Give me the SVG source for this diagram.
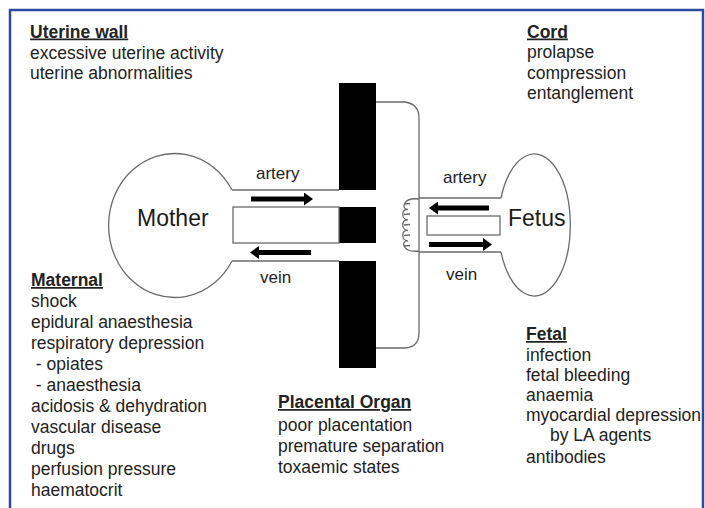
<svg xmlns="http://www.w3.org/2000/svg" width="705" height="508" viewBox="0 0 705 508">
<style>
.t{font-family:"Liberation Sans",Arial,sans-serif;font-size:17.5px;fill:#222}
.h{font-weight:bold;text-decoration:underline}
.big{font-family:"Liberation Sans",Arial,sans-serif;font-size:23px;fill:#1a1a1a}
.lab{font-family:"Liberation Sans",Arial,sans-serif;font-size:17px;fill:#222}
.ln{fill:none;stroke:#6a6a6a;stroke-width:1.3}
.bx{fill:#fff;stroke:#6a6a6a;stroke-width:1.3}
.bar{fill:#000}
.arr{stroke:#000;stroke-width:5;fill:none;marker-end:url(#ah)}
</style>
<defs>
<marker id="ah" markerUnits="userSpaceOnUse" markerWidth="9" markerHeight="13" refX="0" refY="6.5" orient="auto">
<path d="M0,0 L9,6.5 L0,13 z" fill="#000"/>
</marker>
</defs>
<rect x="0" y="0" width="705" height="508" fill="#fff"/>
<path d="M10,508 L10,10 L703,10 L703,508" fill="none" stroke="#2b4a9b" stroke-width="2.5"/>

<g id="placenta">
<rect class="bar" x="339" y="83" width="37" height="107"/>
<rect class="bar" x="339" y="207" width="37" height="36"/>
<rect class="bar" x="339" y="261" width="37" height="107"/>
</g>

<g id="mother">
<path class="ln" d="M232,190 A66,72 0 1 0 232,261"/>
<line class="ln" x1="232" y1="190" x2="339" y2="190"/>
<line class="ln" x1="232" y1="261" x2="339" y2="261"/>
<rect class="bx" x="233" y="207" width="106" height="36"/>
<text class="big" x="137" y="226">Mother</text>
</g>

<g id="cord">
<path class="ln" d="M376,102 L405,102 Q419,104 419,118 L419,333 Q419,347 405,348 L376,348"/>
<line class="ln" x1="419" y1="198" x2="501" y2="198"/>
<line class="ln" x1="419" y1="252" x2="501" y2="252"/>
<path class="ln" d="M419,199 C402,197 401,210 408,209.5 M408,209.5 C401,208 401,220 408,220 M408,220 C401,218.5 401,230.5 408,230.5 M408,230.5 C401,229 401,241 408,241 M408,241 C401,239.5 401,253 419,251"/>
<path class="ln" d="M404,204 L410,203.5 M404,214.5 L410,214 M404,225 L410,224.5 M404,235.5 L410,235 M404,246 L410,245.5"/>
</g>

<g id="fetus">
<path class="ln" d="M501,198 A36,71 0 1 1 501,252"/>
<rect class="bx" x="427" y="216" width="73" height="19"/>
<text class="big" x="508" y="226">Fetus</text>
</g>

<g id="connectors">
<line class="arr" x1="251" y1="199" x2="304" y2="199"/>
<line class="arr" x1="311" y1="252.5" x2="259" y2="252.5"/>
<line class="arr" x1="489" y1="208" x2="438" y2="208"/>
<line class="arr" x1="429" y1="244.5" x2="483" y2="244.5"/>
</g>

<g id="labels">
<text class="lab" x="256" y="178.5">artery</text>
<text class="lab" x="260" y="282.5">vein</text>
<text class="lab" x="443" y="183">artery</text>
<text class="lab" x="446" y="280">vein</text>
</g>

<g id="uterine">
<text class="t h" x="30" y="37.5">Uterine wall</text>
<text class="t" x="30" y="58.5">excessive uterine activity</text>
<text class="t" x="30" y="79">uterine abnormalities</text>
</g>

<g id="cordlist">
<text class="t h" x="527" y="37.5">Cord</text>
<text class="t" x="527" y="58">prolapse</text>
<text class="t" x="527" y="78.5">compression</text>
<text class="t" x="527" y="99">entanglement</text>
</g>

<g id="maternal">
<text class="t h" x="31" y="286">Maternal</text>
<text class="t" x="31" y="307">shock</text>
<text class="t" x="31" y="328">epidural anaesthesia</text>
<text class="t" x="31" y="349">respiratory depression</text>
<text class="t" x="31" y="370" xml:space="preserve"> - opiates</text>
<text class="t" x="31" y="391" xml:space="preserve"> - anaesthesia</text>
<text class="t" x="31" y="412">acidosis &amp; dehydration</text>
<text class="t" x="31" y="433">vascular disease</text>
<text class="t" x="31" y="454">drugs</text>
<text class="t" x="31" y="475">perfusion pressure</text>
<text class="t" x="31" y="496">haematocrit</text>
</g>

<g id="placental">
<text class="t h" x="278" y="408">Placental Organ</text>
<text class="t" x="278" y="431">poor placentation</text>
<text class="t" x="278" y="452">premature separation</text>
<text class="t" x="278" y="473">toxaemic states</text>
</g>

<g id="fetal">
<text class="t h" x="526" y="340">Fetal</text>
<text class="t" x="526" y="361">infection</text>
<text class="t" x="526" y="381">fetal bleeding</text>
<text class="t" x="526" y="401">anaemia</text>
<text class="t" x="526" y="421">myocardial depression</text>
<text class="t" x="550" y="441">by LA agents</text>
<text class="t" x="526" y="463">antibodies</text>
</g>
</svg>
